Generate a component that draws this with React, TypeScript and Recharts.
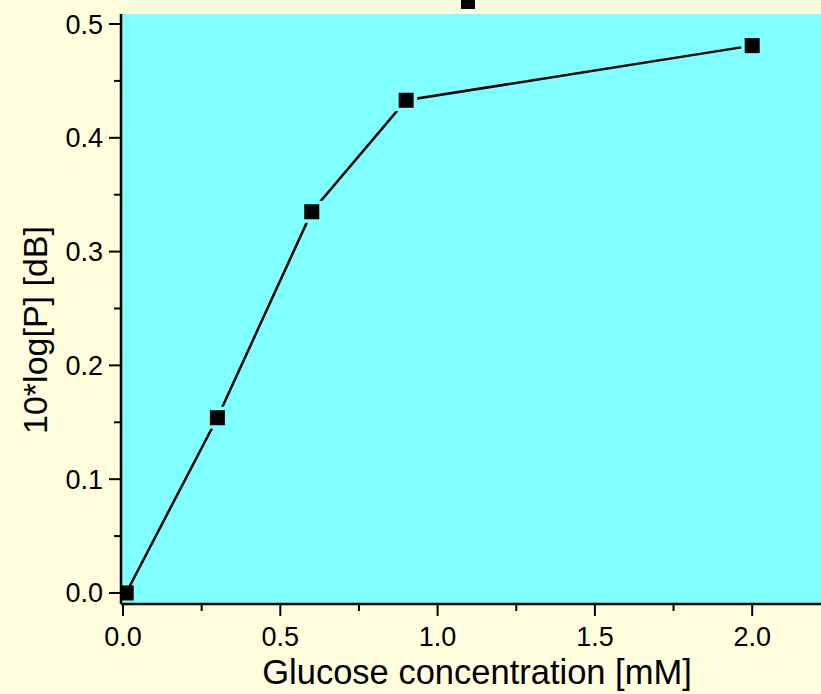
import { LineChart, Line, XAxis, YAxis, CartesianGrid } from "recharts";

const concentration = [0.01, 0.3, 0.6, 0.9, 2.0];
const powerDb = [0.0, 0.154, 0.335, 0.433, 0.481];

const xTicks = [0, 0.25, 0.5, 0.75, 1.0, 1.25, 1.5, 1.75, 2.0];
const xMajor = [0, 0.5, 1.0, 1.5, 2.0];
const yTicks = [0, 0.05, 0.1, 0.15, 0.2, 0.25, 0.3, 0.35, 0.4, 0.45, 0.5];
const yMajor = [0, 0.1, 0.2, 0.3, 0.4, 0.5];

const BG = "#FFFDDC";
const PLOT = "#80FFFF";
const FONT = "'Liberation Sans', Arial, sans-serif";

const data = concentration.map((c, i) => ({ c, p: powerDb[i] }));

const isMajor = (list: number[], v: number) => list.some(m => Math.abs(m - v) < 1e-6);

const XTick = (props: any) => {
  const { x, y, payload } = props;
  const major = isMajor(xMajor, payload.value);
  return (
    <g>
      <line x1={x} x2={x} y1={y} y2={y + (major ? 12 : 7)} stroke="#000" strokeWidth={2} />
      {major && (
        <text x={x} y={y + 42} textAnchor="middle" fontSize={27} fontFamily={FONT} fill="#000">
          {payload.value.toFixed(1)}
        </text>
      )}
    </g>
  );
};

const YTick = (props: any) => {
  const { x, y, payload } = props;
  const major = isMajor(yMajor, payload.value);
  return (
    <g>
      <line x1={x} x2={x - (major ? 12 : 7)} y1={y} y2={y} stroke="#000" strokeWidth={2} />
      {major && (
        <text x={x - 18} y={y + 9.5} textAnchor="end" fontSize={27} fontFamily={FONT} fill="#000">
          {payload.value.toFixed(1)}
        </text>
      )}
    </g>
  );
};

const SquareDot = (props: any) => {
  const { cx, cy, index } = props;
  return (
    <g key={`dot-${index}`}>
      {index > 0 && <rect x={cx - 11} y={cy - 11} width={22} height={22} fill={PLOT} />}
      <rect x={cx - 7.5} y={cy - 7.5} width={15} height={15} fill="#000" />
    </g>
  );
};

const XTitle = (props: any) => {
  const vb = props.viewBox || {};
  return (
    <text x={vb.x + vb.width / 2 + 6} y={vb.y + 80} textAnchor="middle" fontSize={34.5} fontFamily={FONT} fill="#000">
      Glucose concentration [mM]
    </text>
  );
};

const YTitle = (props: any) => {
  const vb = props.viewBox || {};
  const cx = 47;
  const cy = vb.y + vb.height / 2 + 21;
  return (
    <text x={cx} y={cy} transform={`rotate(-90 ${cx} ${cy})`} textAnchor="middle" fontSize={34} fontFamily={FONT} fill="#000">
      10*log[P] [dB]
    </text>
  );
};

export default function App() {
  return (
    <div style={{ position: "absolute", left: 0, top: 0, width: 821, height: 694, background: BG, overflow: "hidden" }}>
      <div style={{ position: "absolute", left: 461, top: 0, width: 14, height: 9, background: "#000" }} />
      <LineChart width={821} height={694} data={data} margin={{ top: 14, right: 0, bottom: 0, left: 0 }}>
        <CartesianGrid fill={PLOT} horizontal={false} vertical={false} />
        <XAxis
          dataKey="c"
          type="number"
          domain={[-0.0064, 2.2187]}
          allowDataOverflow
          ticks={xTicks}
          tick={<XTick />}
          tickLine={false}
          tickSize={0}
          tickMargin={0}
          interval={0}
          height={90}
          axisLine={{ stroke: "#000", strokeWidth: 2.5 }}
          label={{ content: <XTitle /> }}
        />
        <XAxis
          xAxisId="top"
          orientation="top"
          dataKey="c"
          type="number"
          domain={[-0.0064, 2.2187]}
          allowDataOverflow
          tick={false}
          tickLine={false}
          height={0}
          axisLine={{ stroke: "#000", strokeWidth: 2.5 }}
        />
        <YAxis
          dataKey="p"
          type="number"
          domain={[-0.0097, 0.5088]}
          allowDataOverflow
          ticks={yTicks}
          tick={<YTick />}
          tickLine={false}
          tickSize={0}
          tickMargin={0}
          interval={0}
          width={121}
          axisLine={{ stroke: "#000", strokeWidth: 2.5 }}
          label={{ content: <YTitle /> }}
        />
        <Line
          dataKey="p"
          stroke="#000"
          strokeWidth={2.5}
          dot={<SquareDot />}
          activeDot={false}
          isAnimationActive={false}
        />
      </LineChart>
    </div>
  );
}
